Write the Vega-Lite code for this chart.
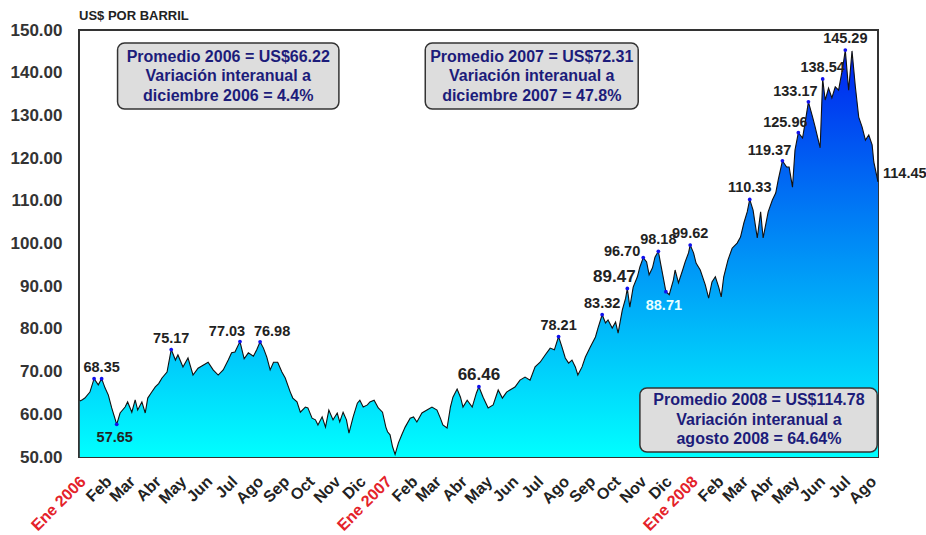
{
  "$schema": "https://vega.github.io/schema/vega-lite/v6.json",
  "width": 799,
  "height": 427,
  "autosize": {"type": "none"},
  "padding": {"left": 79, "top": 30, "right": 48, "bottom": 78},
  "background": "white",
  "title": {"text": "US$ POR BARRIL", "anchor": "start", "frame": "group", "fontSize": 13, "fontWeight": "bold", "color": "#222", "offset": -2, "font": "Liberation Sans"},
  "config": {"view": {"stroke": "#333", "strokeWidth": 2}, "font": "Liberation Sans"},
  "datasets": {
    "serie": [
      {"fecha": "2006-01-02", "precio": 63.1}, {"fecha": "2006-01-05", "precio": 63.4}, {"fecha": "2006-01-08", "precio": 63.8},
      {"fecha": "2006-01-14", "precio": 65.2}, {"fecha": "2006-01-19", "precio": 68.35}, {"fecha": "2006-01-24", "precio": 66.9},
      {"fecha": "2006-01-28", "precio": 68.35}, {"fecha": "2006-02-01", "precio": 66.2}, {"fecha": "2006-02-05", "precio": 64.5},
      {"fecha": "2006-02-09", "precio": 61.5}, {"fecha": "2006-02-15", "precio": 57.65}, {"fecha": "2006-02-19", "precio": 60.3},
      {"fecha": "2006-02-25", "precio": 61.7}, {"fecha": "2006-02-28", "precio": 62.9}, {"fecha": "2006-03-05", "precio": 60.5},
      {"fecha": "2006-03-09", "precio": 63.4}, {"fecha": "2006-03-12", "precio": 61.0}, {"fecha": "2006-03-17", "precio": 62.9},
      {"fecha": "2006-03-21", "precio": 60.3}, {"fecha": "2006-03-24", "precio": 63.8}, {"fecha": "2006-03-28", "precio": 65.0},
      {"fecha": "2006-04-02", "precio": 66.4}, {"fecha": "2006-04-06", "precio": 67.2}, {"fecha": "2006-04-10", "precio": 68.5},
      {"fecha": "2006-04-16", "precio": 69.9}, {"fecha": "2006-04-21", "precio": 75.17}, {"fecha": "2006-04-26", "precio": 72.7},
      {"fecha": "2006-04-29", "precio": 73.9}, {"fecha": "2006-05-05", "precio": 71.1}, {"fecha": "2006-05-11", "precio": 73.2},
      {"fecha": "2006-05-17", "precio": 69.2}, {"fecha": "2006-05-23", "precio": 70.8}, {"fecha": "2006-05-29", "precio": 71.5},
      {"fecha": "2006-06-04", "precio": 72.2}, {"fecha": "2006-06-10", "precio": 70.4}, {"fecha": "2006-06-16", "precio": 69.2},
      {"fecha": "2006-06-22", "precio": 70.4}, {"fecha": "2006-06-28", "precio": 72.7}, {"fecha": "2006-07-02", "precio": 74.4},
      {"fecha": "2006-07-06", "precio": 74.6}, {"fecha": "2006-07-12", "precio": 77.03}, {"fecha": "2006-07-17", "precio": 73.0},
      {"fecha": "2006-07-22", "precio": 74.4}, {"fecha": "2006-07-28", "precio": 73.6}, {"fecha": "2006-08-01", "precio": 75.1},
      {"fecha": "2006-08-05", "precio": 76.98}, {"fecha": "2006-08-09", "precio": 75.5}, {"fecha": "2006-08-13", "precio": 73.4},
      {"fecha": "2006-08-17", "precio": 70.4}, {"fecha": "2006-08-21", "precio": 72.2}, {"fecha": "2006-08-26", "precio": 72.2},
      {"fecha": "2006-08-31", "precio": 69.9}, {"fecha": "2006-09-04", "precio": 68.5}, {"fecha": "2006-09-10", "precio": 65.2},
      {"fecha": "2006-09-13", "precio": 63.8}, {"fecha": "2006-09-18", "precio": 62.9}, {"fecha": "2006-09-22", "precio": 60.5},
      {"fecha": "2006-09-28", "precio": 61.7}, {"fecha": "2006-10-01", "precio": 61.5}, {"fecha": "2006-10-06", "precio": 59.1},
      {"fecha": "2006-10-10", "precio": 58.7}, {"fecha": "2006-10-13", "precio": 57.5}, {"fecha": "2006-10-18", "precio": 59.4},
      {"fecha": "2006-10-22", "precio": 57.0}, {"fecha": "2006-10-26", "precio": 61.0}, {"fecha": "2006-10-31", "precio": 58.7},
      {"fecha": "2006-11-05", "precio": 60.3}, {"fecha": "2006-11-08", "precio": 58.2}, {"fecha": "2006-11-12", "precio": 60.5},
      {"fecha": "2006-11-16", "precio": 58.7}, {"fecha": "2006-11-19", "precio": 55.6}, {"fecha": "2006-11-24", "precio": 59.4},
      {"fecha": "2006-11-29", "precio": 62.6}, {"fecha": "2006-12-02", "precio": 63.3}, {"fecha": "2006-12-06", "precio": 61.7},
      {"fecha": "2006-12-11", "precio": 62.2}, {"fecha": "2006-12-14", "precio": 62.9}, {"fecha": "2006-12-19", "precio": 63.3},
      {"fecha": "2006-12-24", "precio": 61.5}, {"fecha": "2006-12-29", "precio": 60.5},
      {"fecha": "2007-01-02", "precio": 57.0}, {"fecha": "2007-01-04", "precio": 55.9}, {"fecha": "2007-01-07", "precio": 55.2},
      {"fecha": "2007-01-10", "precio": 52.4}, {"fecha": "2007-01-13", "precio": 50.6}, {"fecha": "2007-01-17", "precio": 53.3},
      {"fecha": "2007-01-21", "precio": 55.2}, {"fecha": "2007-01-25", "precio": 57.0}, {"fecha": "2007-01-31", "precio": 59.1},
      {"fecha": "2007-02-04", "precio": 59.4}, {"fecha": "2007-02-08", "precio": 58.2}, {"fecha": "2007-02-14", "precio": 60.3},
      {"fecha": "2007-02-20", "precio": 61.0}, {"fecha": "2007-02-26", "precio": 61.7}, {"fecha": "2007-03-04", "precio": 61.0},
      {"fecha": "2007-03-08", "precio": 59.1}, {"fecha": "2007-03-11", "precio": 57.5}, {"fecha": "2007-03-16", "precio": 56.8},
      {"fecha": "2007-03-20", "precio": 61.7}, {"fecha": "2007-03-23", "precio": 64.0}, {"fecha": "2007-03-28", "precio": 65.9},
      {"fecha": "2007-04-01", "precio": 64.0}, {"fecha": "2007-04-04", "precio": 61.7}, {"fecha": "2007-04-09", "precio": 63.3},
      {"fecha": "2007-04-15", "precio": 61.7}, {"fecha": "2007-04-20", "precio": 65.0}, {"fecha": "2007-04-23", "precio": 66.46},
      {"fecha": "2007-04-28", "precio": 64.0}, {"fecha": "2007-05-04", "precio": 61.5}, {"fecha": "2007-05-10", "precio": 62.2},
      {"fecha": "2007-05-16", "precio": 65.7}, {"fecha": "2007-05-21", "precio": 63.8}, {"fecha": "2007-05-26", "precio": 65.2},
      {"fecha": "2007-05-30", "precio": 65.7}, {"fecha": "2007-06-05", "precio": 66.4}, {"fecha": "2007-06-11", "precio": 68.0},
      {"fecha": "2007-06-17", "precio": 68.7}, {"fecha": "2007-06-23", "precio": 68.0}, {"fecha": "2007-06-29", "precio": 71.1},
      {"fecha": "2007-07-05", "precio": 72.2}, {"fecha": "2007-07-11", "precio": 73.9}, {"fecha": "2007-07-17", "precio": 75.5},
      {"fecha": "2007-07-22", "precio": 75.1}, {"fecha": "2007-07-27", "precio": 78.21}, {"fecha": "2007-07-31", "precio": 75.8},
      {"fecha": "2007-08-04", "precio": 73.2}, {"fecha": "2007-08-08", "precio": 72.0}, {"fecha": "2007-08-12", "precio": 72.7},
      {"fecha": "2007-08-16", "precio": 71.1}, {"fecha": "2007-08-19", "precio": 69.2}, {"fecha": "2007-08-24", "precio": 71.1},
      {"fecha": "2007-08-28", "precio": 73.4}, {"fecha": "2007-09-03", "precio": 75.8}, {"fecha": "2007-09-09", "precio": 78.1},
      {"fecha": "2007-09-12", "precio": 80.2}, {"fecha": "2007-09-17", "precio": 83.32}, {"fecha": "2007-09-21", "precio": 81.4},
      {"fecha": "2007-09-24", "precio": 82.1}, {"fecha": "2007-09-29", "precio": 80.2}, {"fecha": "2007-10-03", "precio": 81.6},
      {"fecha": "2007-10-06", "precio": 79.0}, {"fecha": "2007-10-11", "precio": 84.4}, {"fecha": "2007-10-15", "precio": 87.2},
      {"fecha": "2007-10-17", "precio": 89.47}, {"fecha": "2007-10-20", "precio": 85.1}, {"fecha": "2007-10-24", "precio": 89.8},
      {"fecha": "2007-10-29", "precio": 92.2}, {"fecha": "2007-11-01", "precio": 94.5}, {"fecha": "2007-11-05", "precio": 96.7},
      {"fecha": "2007-11-09", "precio": 95.7}, {"fecha": "2007-11-12", "precio": 92.7}, {"fecha": "2007-11-16", "precio": 94.3},
      {"fecha": "2007-11-19", "precio": 96.8}, {"fecha": "2007-11-23", "precio": 98.18}, {"fecha": "2007-11-26", "precio": 95.0},
      {"fecha": "2007-11-29", "precio": 91.9}, {"fecha": "2007-12-02", "precio": 88.71}, {"fecha": "2007-12-06", "precio": 88.0},
      {"fecha": "2007-12-11", "precio": 91.5}, {"fecha": "2007-12-13", "precio": 93.8}, {"fecha": "2007-12-17", "precio": 90.8},
      {"fecha": "2007-12-22", "precio": 93.8}, {"fecha": "2007-12-25", "precio": 95.7}, {"fecha": "2007-12-29", "precio": 97.8},
      {"fecha": "2007-12-31", "precio": 99.62},
      {"fecha": "2008-01-04", "precio": 97.8}, {"fecha": "2008-01-07", "precio": 95.4}, {"fecha": "2008-01-12", "precio": 93.8},
      {"fecha": "2008-01-18", "precio": 90.3}, {"fecha": "2008-01-22", "precio": 87.2}, {"fecha": "2008-01-26", "precio": 91.0},
      {"fecha": "2008-01-30", "precio": 92.2}, {"fecha": "2008-02-03", "precio": 89.8}, {"fecha": "2008-02-06", "precio": 87.5},
      {"fecha": "2008-02-09", "precio": 92.2}, {"fecha": "2008-02-14", "precio": 96.1}, {"fecha": "2008-02-19", "precio": 98.9},
      {"fecha": "2008-02-25", "precio": 100.1}, {"fecha": "2008-02-29", "precio": 101.5}, {"fecha": "2008-03-04", "precio": 104.8},
      {"fecha": "2008-03-08", "precio": 107.4}, {"fecha": "2008-03-11", "precio": 110.33}, {"fecha": "2008-03-15", "precio": 107.8},
      {"fecha": "2008-03-20", "precio": 101.3}, {"fecha": "2008-03-24", "precio": 107.4}, {"fecha": "2008-03-27", "precio": 101.3},
      {"fecha": "2008-04-02", "precio": 107.4}, {"fecha": "2008-04-07", "precio": 110.2}, {"fecha": "2008-04-11", "precio": 111.8},
      {"fecha": "2008-04-14", "precio": 114.9}, {"fecha": "2008-04-19", "precio": 119.37}, {"fecha": "2008-04-24", "precio": 117.9},
      {"fecha": "2008-04-27", "precio": 117.9}, {"fecha": "2008-05-01", "precio": 113.2}, {"fecha": "2008-05-04", "precio": 121.9},
      {"fecha": "2008-05-08", "precio": 125.96}, {"fecha": "2008-05-13", "precio": 124.7}, {"fecha": "2008-05-16", "precio": 128.2},
      {"fecha": "2008-05-20", "precio": 133.17}, {"fecha": "2008-05-25", "precio": 129.6}, {"fecha": "2008-05-28", "precio": 127.3},
      {"fecha": "2008-06-03", "precio": 122.4}, {"fecha": "2008-06-06", "precio": 138.54}, {"fecha": "2008-06-09", "precio": 133.6},
      {"fecha": "2008-06-13", "precio": 136.4}, {"fecha": "2008-06-17", "precio": 134.1}, {"fecha": "2008-06-21", "precio": 136.7},
      {"fecha": "2008-06-25", "precio": 135.9}, {"fecha": "2008-06-30", "precio": 141.3}, {"fecha": "2008-07-03", "precio": 145.29},
      {"fecha": "2008-07-07", "precio": 135.9}, {"fecha": "2008-07-11", "precio": 145.1}, {"fecha": "2008-07-15", "precio": 136.7},
      {"fecha": "2008-07-19", "precio": 129.6}, {"fecha": "2008-07-23", "precio": 127.3}, {"fecha": "2008-07-27", "precio": 124.2},
      {"fecha": "2008-07-31", "precio": 125.4}, {"fecha": "2008-08-04", "precio": 123.1}, {"fecha": "2008-08-06", "precio": 119.1},
      {"fecha": "2008-08-11", "precio": 114.45}
    ],
    "puntos": [
      {"fecha": "2006-01-19", "precio": 68.35}, {"fecha": "2006-01-28", "precio": 68.35}, {"fecha": "2006-02-15", "precio": 57.65},
      {"fecha": "2006-04-21", "precio": 75.17}, {"fecha": "2006-07-12", "precio": 77.03}, {"fecha": "2006-08-05", "precio": 76.98},
      {"fecha": "2007-04-23", "precio": 66.46}, {"fecha": "2007-07-27", "precio": 78.21}, {"fecha": "2007-09-17", "precio": 83.32},
      {"fecha": "2007-10-17", "precio": 89.47}, {"fecha": "2007-11-05", "precio": 96.7}, {"fecha": "2007-11-23", "precio": 98.18},
      {"fecha": "2007-12-02", "precio": 88.71}, {"fecha": "2007-12-31", "precio": 99.62}, {"fecha": "2008-03-11", "precio": 110.33},
      {"fecha": "2008-04-19", "precio": 119.37}, {"fecha": "2008-05-08", "precio": 125.96}, {"fecha": "2008-05-20", "precio": 133.17},
      {"fecha": "2008-06-06", "precio": 138.54}, {"fecha": "2008-07-03", "precio": 145.29}
    ],
    "etiquetas": [
      {"fecha": "2006-01-28", "precio": 68.35, "etiqueta": "68.35"},
      {"fecha": "2006-02-15", "precio": 57.65, "etiqueta": "57.65"},
      {"fecha": "2006-04-21", "precio": 75.17, "etiqueta": "75.17"},
      {"fecha": "2006-07-12", "precio": 77.03, "etiqueta": "77.03"},
      {"fecha": "2006-08-05", "precio": 76.98, "etiqueta": "76.98"},
      {"fecha": "2007-04-23", "precio": 66.46, "etiqueta": "66.46"},
      {"fecha": "2007-07-27", "precio": 78.21, "etiqueta": "78.21"},
      {"fecha": "2007-09-17", "precio": 83.32, "etiqueta": "83.32"},
      {"fecha": "2007-10-17", "precio": 89.47, "etiqueta": "89.47"},
      {"fecha": "2007-11-05", "precio": 96.7, "etiqueta": "96.70"},
      {"fecha": "2007-11-23", "precio": 98.18, "etiqueta": "98.18"},
      {"fecha": "2007-12-02", "precio": 88.71, "etiqueta": "88.71"},
      {"fecha": "2007-12-31", "precio": 99.62, "etiqueta": "99.62"},
      {"fecha": "2008-03-11", "precio": 110.33, "etiqueta": "110.33"},
      {"fecha": "2008-04-19", "precio": 119.37, "etiqueta": "119.37"},
      {"fecha": "2008-05-08", "precio": 125.96, "etiqueta": "125.96"},
      {"fecha": "2008-05-20", "precio": 133.17, "etiqueta": "133.17"},
      {"fecha": "2008-06-06", "precio": 138.54, "etiqueta": "138.54"},
      {"fecha": "2008-07-03", "precio": 145.29, "etiqueta": "145.29"},
      {"fecha": "2008-08-11", "precio": 114.45, "etiqueta": "114.45"}
    ],
    "anios": [{"fecha": "2007-01-01"}, {"fecha": "2008-01-01"}],
    "cuadros": [
      {"fecha": "2006-02-16", "fecha2": "2006-11-07", "precio": 146.95, "precio2": 131.5},
      {"fecha": "2007-02-18", "fecha2": "2007-10-30", "precio": 146.95, "precio2": 131.5},
      {"fecha": "2007-11-01", "fecha2": "2008-08-10", "precio": 66.16, "precio2": 51.17}
    ],
    "notas": [
      {"fecha": "2006-06-28", "precio": 143.75, "texto": "Promedio 2006 = US$66.22"},
      {"fecha": "2006-06-28", "precio": 139.2, "texto": "Variación interanual a"},
      {"fecha": "2006-06-28", "precio": 134.65, "texto": "diciembre 2006 = 4.4%"},
      {"fecha": "2007-06-25", "precio": 143.75, "texto": "Promedio 2007 = US$72.31"},
      {"fecha": "2007-06-25", "precio": 139.2, "texto": "Variación interanual a"},
      {"fecha": "2007-06-25", "precio": 134.65, "texto": "diciembre 2007 = 47.8%"},
      {"fecha": "2008-03-22", "precio": 63.25, "texto": "Promedio 2008 = US$114.78"},
      {"fecha": "2008-03-22", "precio": 58.7, "texto": "Variación interanual a"},
      {"fecha": "2008-03-22", "precio": 54.15, "texto": "agosto 2008 = 64.64%"}
    ]
  },
  "encoding": {
    "x": {
      "field": "fecha", "type": "temporal", "title": null,
      "scale": {"type": "utc", "domain": [{"year": 2006, "month": 1, "date": 1, "utc": true}, {"year": 2008, "month": 8, "date": 11, "utc": true}]},
      "axis": {
        "tickCount": {"interval": "month", "step": 1},
        "labelExpr": "['Ene','Feb','Mar','Abr','May','Jun','Jul','Ago','Sep','Oct','Nov','Dic'][utcmonth(datum.value)] + (utcmonth(datum.value) == 0 ? ' ' + utcyear(datum.value) : '')",
        "labelAngle": -45, "labelAlign": "right", "labelBaseline": "top",
        "labelFontSize": 16, "labelFontWeight": "bold", "labelFont": "Liberation Sans",
        "labelColor": {"condition": {"test": "utcmonth(datum.value) == 0", "value": "#e4222a"}, "value": "#222222"},
        "ticks": false, "domain": false, "grid": false,
        "labelPadding": 16, "labelOffset": -2,
        "labelOverlap": false, "labelBound": false, "labelFlush": false
      }
    },
    "y": {
      "field": "precio", "type": "quantitative", "title": null,
      "scale": {"domain": [50, 150], "zero": false, "nice": false},
      "axis": {
        "values": [50, 60, 70, 80, 90, 100, 110, 120, 130, 140, 150],
        "format": ".2f", "labelFontSize": 17, "labelFontWeight": "bold", "labelFont": "Liberation Sans",
        "labelColor": "#333333", "ticks": false, "domain": false, "grid": false,
        "labelPadding": 17, "labelFlush": false
      }
    }
  },
  "layer": [
    {
      "data": {"name": "serie"},
      "mark": {"type": "area", "line": false, "fill": {"gradient": "linear", "x1": 0, "y1": 0, "x2": 0, "y2": 1, "stops": [{"offset": 0, "color": "#0022ee"}, {"offset": 1, "color": "#00ffff"}]}},
      "encoding": {"y2": {"datum": 50}}
    },
    {
      "data": {"name": "serie"},
      "mark": {"type": "line", "color": "#111111", "strokeWidth": 1.1},
      "encoding": {}
    },
    {
      "data": {"name": "anios"},
      "mark": {"type": "rule", "color": "#999999", "strokeWidth": 1.5},
      "encoding": {"y": {"datum": 50}, "y2": {"datum": 150}}
    },
    {
      "data": {"name": "cuadros", "format": {"parse": {"fecha": "date", "fecha2": "date"}}},
      "mark": {"type": "rect", "fill": "#dddddd", "stroke": "#333333", "strokeWidth": 1.5, "cornerRadius": 7},
      "encoding": {"x2": {"field": "fecha2"}, "y2": {"field": "precio2"}}
    },
    {
      "data": {"name": "notas"},
      "mark": {"type": "text", "fontSize": 16, "fontWeight": "bold", "color": "#1c1c7a", "baseline": "middle", "align": "center"},
      "encoding": {"text": {"field": "texto"}}
    },
    {
      "data": {"name": "puntos"},
      "mark": {"type": "circle", "color": "#1010ee", "size": 14, "opacity": 1},
      "encoding": {}
    },
    {
      "data": {"name": "etiquetas"},
      "transform": [{"filter": {"field": "etiqueta", "oneOf": ["68.35", "75.17", "98.18", "110.33", "145.29", "78.21", "83.32", "99.62", "138.54", "66.46"]}}],
      "mark": {"type": "text", "fontWeight": "bold", "align": "center", "baseline": "alphabetic", "dy": -7},
      "encoding": {
        "text": {"field": "etiqueta"},
        "color": {"value": "#222222"},
        "size": {"condition": {"test": "datum.etiqueta == '66.46'", "value": 17}, "value": 14.5}
      }
    },
    {
      "data": {"name": "etiquetas"},
      "transform": [{"filter": {"field": "etiqueta", "oneOf": ["77.03", "119.37", "125.96", "133.17", "89.47"]}}],
      "mark": {"type": "text", "fontWeight": "bold", "align": "center", "baseline": "alphabetic", "dx": -13, "dy": -6},
      "encoding": {
        "text": {"field": "etiqueta"},
        "color": {"value": "#222222"},
        "size": {"condition": {"test": "datum.etiqueta == '89.47'", "value": 17}, "value": 14.5}
      }
    },
    {
      "data": {"name": "etiquetas"},
      "transform": [{"filter": {"field": "etiqueta", "oneOf": ["76.98"]}}],
      "mark": {"type": "text", "fontWeight": "bold", "fontSize": 14.5, "align": "center", "baseline": "alphabetic", "dx": 12, "dy": -6, "color": "#222222"},
      "encoding": {"text": {"field": "etiqueta"}}
    },
    {
      "data": {"name": "etiquetas"},
      "transform": [{"filter": {"field": "etiqueta", "oneOf": ["96.70"]}}],
      "mark": {"type": "text", "fontWeight": "bold", "fontSize": 14.5, "align": "right", "baseline": "alphabetic", "dx": -3, "dy": -2, "color": "#222222"},
      "encoding": {"text": {"field": "etiqueta"}}
    },
    {
      "data": {"name": "etiquetas"},
      "transform": [{"filter": {"field": "etiqueta", "oneOf": ["57.65", "88.71"]}}],
      "mark": {"type": "text", "fontWeight": "bold", "fontSize": 14.5, "align": "center", "baseline": "alphabetic", "dx": -2, "dy": 18},
      "encoding": {
        "text": {"field": "etiqueta"},
        "color": {"condition": {"test": "datum.etiqueta == '88.71'", "value": "#e8ffff"}, "value": "#222222"}
      }
    },
    {
      "data": {"name": "etiquetas"},
      "transform": [{"filter": {"field": "etiqueta", "oneOf": ["114.45"]}}],
      "mark": {"type": "text", "fontWeight": "bold", "fontSize": 14.5, "align": "left", "baseline": "middle", "dx": 5, "dy": -8, "color": "#222222"},
      "encoding": {"text": {"field": "etiqueta"}}
    }
  ]
}
